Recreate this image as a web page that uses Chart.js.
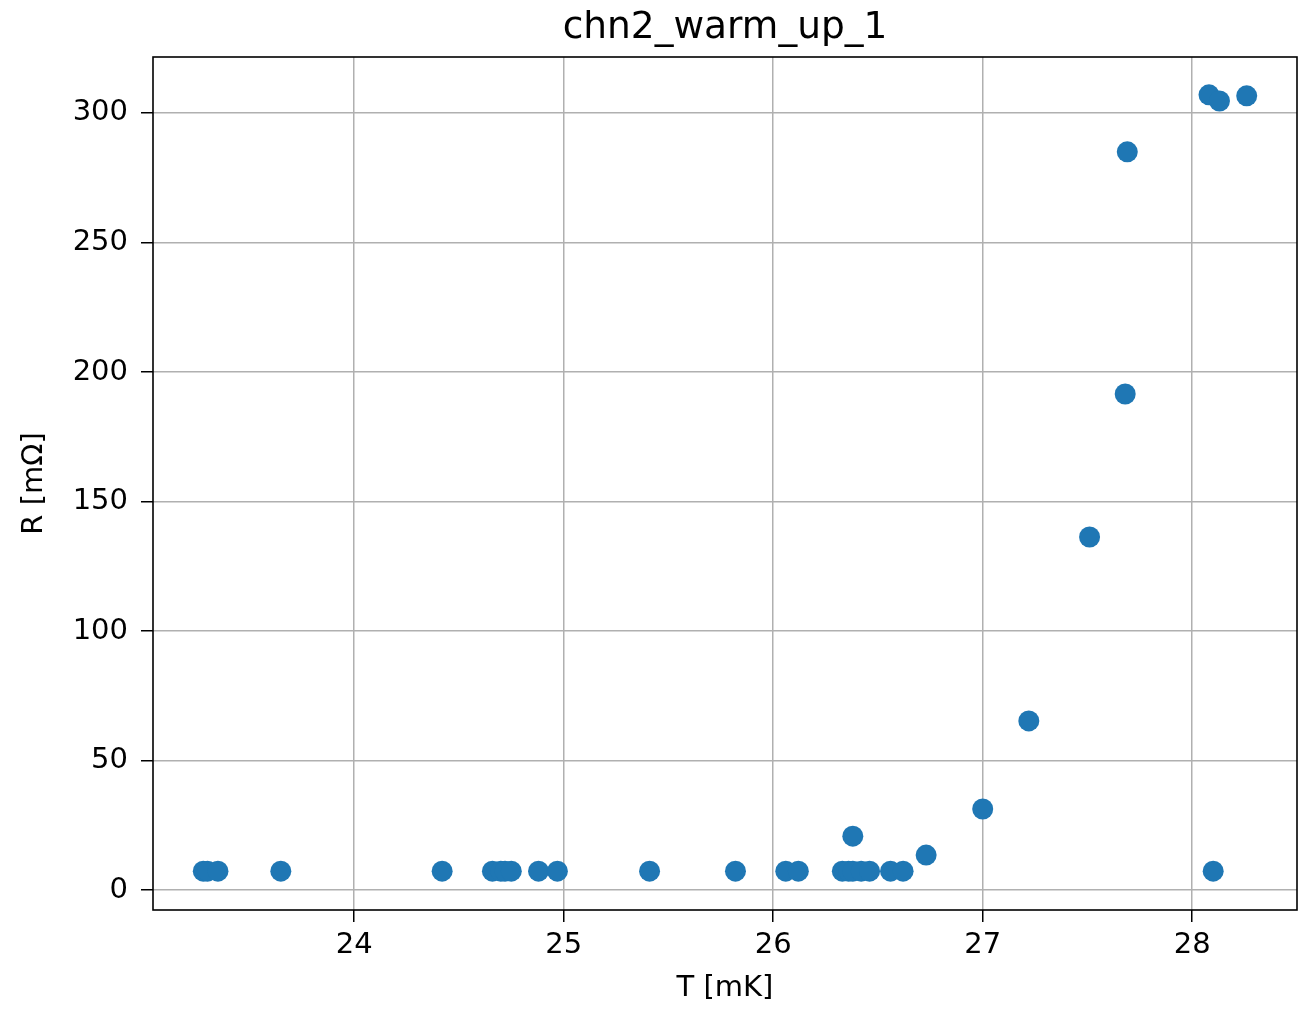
<!DOCTYPE html>
<html>
<head>
<meta charset="utf-8">
<script src="https://cdn.jsdelivr.net/npm/chart.js@4/dist/chart.umd.min.js"></script>
<style>
  html, body { margin: 0; padding: 0; background: #fff; }
  #wrap { width: 1311px; height: 1010px; }
</style>
</head>
<body>
<div id="wrap"><canvas id="rtChart" width="1311" height="1010"></canvas></div>
<script>
// T [mK] and R [mOhm]
const tempMK = [
  23.28, 23.30, 23.35, 23.65, 24.42, 24.66, 24.70, 24.72, 24.75, 24.88,
  24.97, 25.41, 25.82, 26.06, 26.12, 26.33, 26.36, 26.38, 26.42, 26.46,
  26.56, 26.62, 26.38, 26.73, 27.00, 27.22, 27.51, 27.68, 27.69, 28.08,
  28.13, 28.26, 28.10
];
const resistance = [
  7.3, 7.3, 7.3, 7.3, 7.3, 7.3, 7.3, 7.3, 7.3, 7.3,
  7.3, 7.3, 7.3, 7.3, 7.3, 7.3, 7.3, 7.3, 7.3, 7.3,
  7.3, 7.3, 20.8, 13.5, 31.3, 65.3, 136.3, 191.5, 285.0, 307.0,
  304.6, 306.6, 7.3
];
const xTicks = [24, 25, 26, 27, 28];
const yTicks = [0, 50, 100, 150, 200, 250, 300];
const chartTitle = 'chn2_warm_up_1';

const FONT = 'DejaVu Sans';
const points = tempMK.map((t, i) => ({ x: t, y: resistance[i] }));

// matplotlib-style frame around the axes + title centred over the plot area
const frame = {
  id: 'frame',
  afterDraw(chart) {
    const a = chart.chartArea, c = chart.ctx;
    c.save();
    c.strokeStyle = '#000';
    c.lineWidth = 1.6;
    c.strokeRect(a.left, a.top, a.right - a.left, a.bottom - a.top);
    c.fillStyle = '#000';
    c.font = '37.5px "' + FONT + '"';
    c.textAlign = 'center';
    c.textBaseline = 'alphabetic';
    c.fillText(chartTitle, (a.left + a.right) / 2, 38);
    c.restore();
  }
};

new Chart(document.getElementById('rtChart'), {
  type: 'scatter',
  data: {
    datasets: [{
      data: points,
      backgroundColor: '#1f77b4',
      borderWidth: 0,
      pointRadius: 10.5,
      pointHoverRadius: 10.5
    }]
  },
  options: {
    responsive: false,
    animation: false,
    layout: { padding: { left: 0, right: 14, top: 57, bottom: 0 } },
    plugins: {
      legend: { display: false },
      tooltip: { enabled: false },
      title: { display: false }
    },
    scales: {
      x: {
        type: 'linear',
        min: 23.04,
        max: 28.5,
        afterBuildTicks: s => { s.ticks = xTicks.map(v => ({ value: v })); },
        afterFit: s => { s.height = 100; },
        grid: { color: '#b0b0b0', lineWidth: 1.5, tickColor: '#000', tickLength: 12 },
        border: { display: false },
        ticks: { color: '#000', font: { family: FONT, size: 29 }, padding: 6, maxRotation: 0 },
        title: {
          display: true,
          text: 'T [mK]',
          color: '#000',
          font: { family: FONT, size: 29 },
          padding: { top: 0, bottom: 4 }
        }
      },
      y: {
        type: 'linear',
        min: -7.7,
        max: 321.6,
        afterBuildTicks: s => { s.ticks = yTicks.map(v => ({ value: v })); },
        afterFit: s => { s.width = 153; },
        grid: { color: '#b0b0b0', lineWidth: 1.5, tickColor: '#000', tickLength: 12 },
        border: { display: false },
        ticks: { color: '#000', font: { family: FONT, size: 29 }, padding: 13 },
        title: {
          display: true,
          text: 'R [mΩ]',
          color: '#000',
          font: { family: FONT, size: 29 },
          padding: { top: 17, bottom: 0 }
        }
      }
    }
  },
  plugins: [frame]
});
</script>
</body>
</html>
